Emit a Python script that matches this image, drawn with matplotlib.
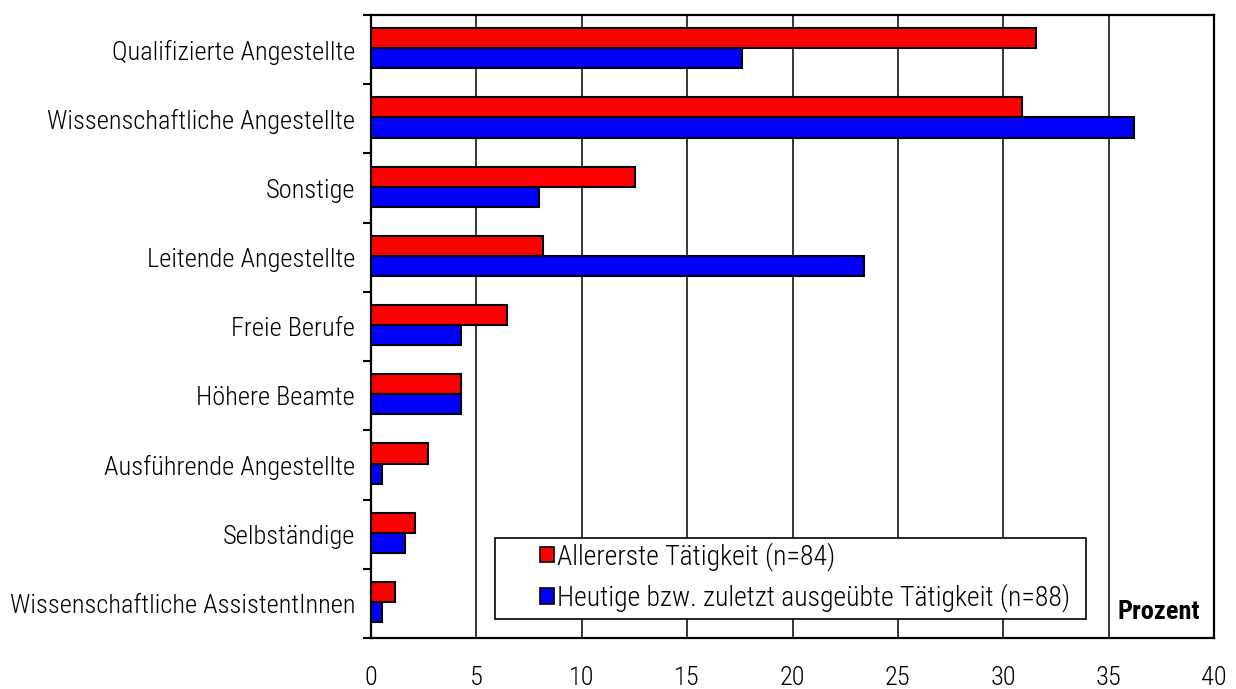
import matplotlib
matplotlib.use("Agg")
import matplotlib.pyplot as plt
import numpy as np
from matplotlib.patches import Patch, Rectangle

categories = [
    "Qualifizierte Angestellte",
    "Wissenschaftliche Angestellte",
    "Sonstige",
    "Leitende Angestellte",
    "Freie Berufe",
    "Höhere Beamte",
    "Ausführende Angestellte",
    "Selbständige",
    "Wissenschaftliche AssistentInnen",
]
erste = [31.55, 30.9, 12.55, 8.15, 6.45, 4.25, 2.7, 2.1, 1.15]
heute = [17.6, 36.2, 7.95, 23.4, 4.25, 4.25, 0.5, 1.6, 0.5]
series_labels = ["Allererste Tätigkeit (n=84)",
                 "Heutige bzw. zuletzt ausgeübte Tätigkeit (n=88)"]
xticks = [0, 5, 10, 15, 20, 25, 30, 35, 40]

plt.rcParams['font.family'] = ['Roboto Condensed', 'Roboto', 'DejaVu Sans']
FS = 19
LIGHT = 'light'

fig = plt.figure(figsize=(12.36, 6.89), dpi=100)
ax = fig.add_axes([371/1236, 1 - 638/689, 843/1236, 623/689])

n = len(categories)
y = np.arange(n)
h = 0.29
off = -0.02
ax.barh(y - h/2 + off, erste, height=h, color="#ff0000", edgecolor="black", linewidth=1.5, zorder=3)
ax.barh(y + h/2 + off, heute, height=h, color="#0000ff", edgecolor="black", linewidth=1.5, zorder=3)

ax.set_ylim(n - 0.5, -0.5)
ax.set_xlim(0, 40)
ax.set_xticks(xticks)
ax.set_xticklabels([str(v) for v in xticks], fontsize=FS, fontweight=LIGHT)
ax.tick_params(axis='x', length=0, pad=20)
ax.set_yticks(y)
ax.set_yticklabels(categories, fontsize=FS, fontweight=LIGHT)
ax.tick_params(axis='y', which='major', length=0, pad=11.5)
ax.set_yticks(np.arange(n + 1) - 0.5, minor=True)
ax.tick_params(axis='y', which='minor', length=6, width=1.5, direction='out')

ax.grid(axis='x', color='black', linewidth=1.1, zorder=0)
ax.set_axisbelow(True)
for s in ax.spines.values():
    s.set_linewidth(1.6)

# legend frame
ax.add_patch(Rectangle((124/843, 19/623), 591/843, 81/623, transform=ax.transAxes,
                       facecolor='white', edgecolor='black', linewidth=1.2, zorder=4))
handles = [Patch(facecolor="#ff0000", edgecolor="black", linewidth=1.2),
           Patch(facecolor="#0000ff", edgecolor="black", linewidth=1.2)]
leg = ax.legend(handles, series_labels, loc='center left',
                bbox_to_anchor=(169/843, 61/623),
                prop={'size': 20, 'weight': LIGHT}, frameon=False,
                handlelength=0.5, handleheight=0.5, handletextpad=0.12,
                borderpad=0, labelspacing=0.45, borderaxespad=0)
leg.set_zorder(5)

ax.text(829/843, 19/623, "Prozent", transform=ax.transAxes, ha='right', va='baseline',
        fontsize=FS, fontweight='bold', zorder=6)

fig.savefig("out.png", dpi=100)
